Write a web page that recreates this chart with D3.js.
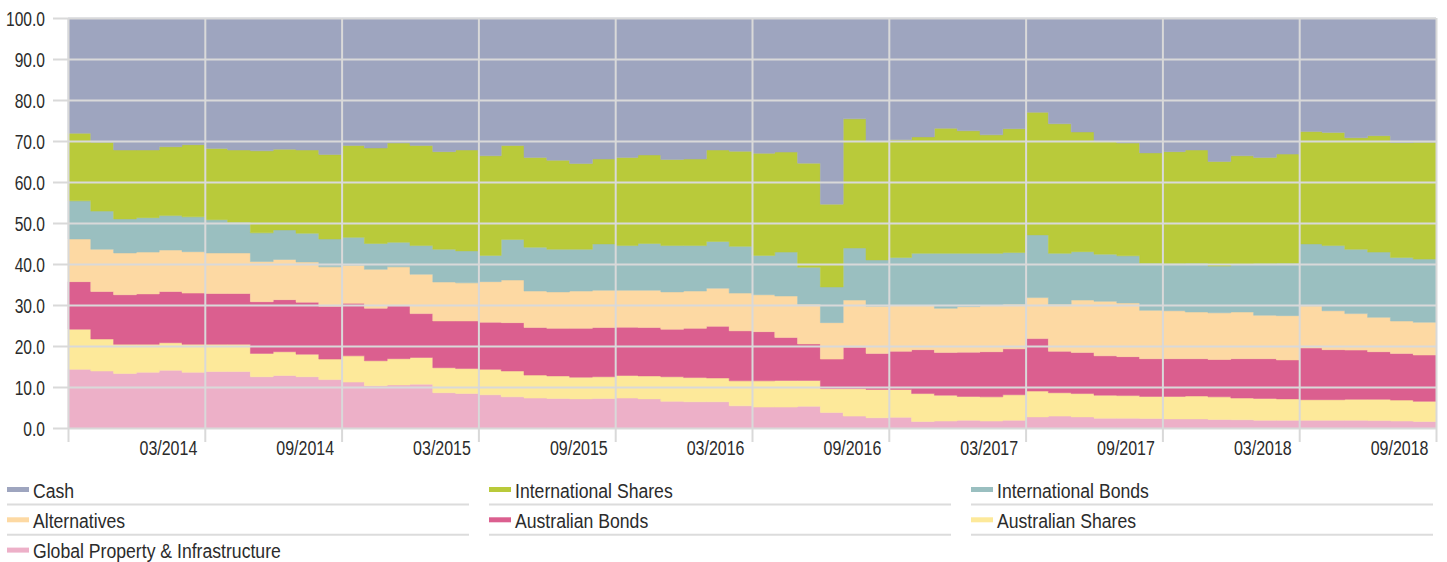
<!DOCTYPE html>
<html>
<head>
<meta charset="utf-8">
<script src="https://cdn.jsdelivr.net/npm/d3@7"></script>
<style>
  body { margin: 0; background: #fff; }
  text { font-family: "Liberation Sans", Arial, sans-serif; fill: #2b2b2b; }
</style>
</head>
<body>
<div id="chart"></div>
<script>
// Monthly asset allocation, Oct 2013 - Sep 2018 (%)
var months = [
  "10/2013","11/2013","12/2013","01/2014","02/2014","03/2014","04/2014","05/2014","06/2014","07/2014",
  "08/2014","09/2014","10/2014","11/2014","12/2014","01/2015","02/2015","03/2015","04/2015","05/2015",
  "06/2015","07/2015","08/2015","09/2015","10/2015","11/2015","12/2015","01/2016","02/2016","03/2016",
  "04/2016","05/2016","06/2016","07/2016","08/2016","09/2016","10/2016","11/2016","12/2016","01/2017",
  "02/2017","03/2017","04/2017","05/2017","06/2017","07/2017","08/2017","09/2017","10/2017","11/2017",
  "12/2017","01/2018","02/2018","03/2018","04/2018","05/2018","06/2018","07/2018","08/2018","09/2018"
];
var tickLabels = ["03/2014","09/2014","03/2015","09/2015","03/2016","09/2016","03/2017","09/2017","03/2018","09/2018"];
var yTicks = [0, 10, 20, 30, 40, 50, 60, 70, 80, 90, 100];

var globalProperty = [
  14.3,13.9,13.3,13.6,14.1,13.6,13.8,13.8,12.5,12.8,
  12.5,11.8,11.2,10.3,10.5,10.7,8.6,8.4,8.1,7.6,
  7.3,7.2,7.1,7.2,7.3,7.1,6.5,6.4,6.4,5.4,
  5.1,5.1,5.3,3.8,2.9,2.5,2.6,1.6,1.7,1.9,
  1.7,1.9,2.7,2.9,2.7,2.4,2.4,2.3,2.2,2.2,
  2.1,2.0,1.9,1.9,1.9,1.9,1.9,1.8,1.7,1.6
];
var australianShares = [
  9.8,7.8,7.1,6.8,6.7,6.8,6.6,6.6,5.7,5.8,
  5.5,5.0,6.4,6.1,6.4,6.5,6.1,6.1,6.2,6.3,
  5.6,5.5,5.3,5.3,5.5,5.6,6.0,5.9,5.8,6.1,
  6.4,6.5,6.3,5.8,6.7,6.9,6.8,6.8,6.3,5.8,
  5.9,6.2,6.3,5.7,5.7,5.6,5.5,5.4,5.5,5.6,
  5.5,5.3,5.3,5.2,5.0,5.0,5.1,5.2,5.1,4.9
];
var australianBonds = [
  11.6,11.6,12.1,12.3,12.5,12.5,12.4,12.4,12.6,12.7,
  12.7,12.9,12.8,12.8,12.9,10.7,11.4,11.6,11.5,11.8,
  11.6,11.6,11.9,12.0,11.8,11.8,11.6,12.0,12.6,12.2,
  12.0,10.5,8.9,7.2,10.1,8.8,9.3,10.7,10.4,10.8,
  11.0,11.2,12.8,10.1,10.0,9.6,9.5,9.2,9.2,9.1,
  9.1,9.6,9.7,9.5,12.6,12.2,12.0,11.6,11.4,11.3
];
var alternatives = [
  10.4,10.3,10.2,10.2,10.1,10.1,9.9,9.9,9.8,9.8,
  9.8,9.6,9.3,9.5,9.5,9.6,9.5,9.3,9.9,10.4,
  8.9,8.9,9.1,9.1,9.0,9.1,9.1,9.1,9.3,9.2,
  9.0,10.1,9.7,8.9,11.5,11.5,11.3,10.9,10.8,11.1,
  11.4,10.9,10.0,11.5,12.8,13.3,13.1,11.8,11.7,11.4,
  11.4,11.4,10.6,10.8,10.3,9.5,8.9,8.4,7.9,8.0
];
var internationalBonds = [
  9.3,9.3,8.3,8.4,8.4,8.5,8.1,7.5,7.0,7.2,
  7.0,6.8,6.8,6.3,6.0,7.0,8.0,7.8,6.4,9.9,
  10.7,10.4,10.2,11.3,10.9,11.4,11.3,11.1,11.4,11.4,
  9.6,10.7,9.0,8.7,12.7,11.3,11.6,12.6,13.4,13.0,
  12.6,12.6,15.3,12.4,11.8,11.5,11.5,11.5,11.5,11.9,
  11.4,11.7,12.6,12.8,15.1,15.9,15.7,15.9,15.5,15.4
];
var internationalShares = [
  16.5,16.8,16.8,16.5,16.8,17.6,17.4,17.6,20.0,19.7,
  20.3,20.6,22.4,23.3,24.2,24.4,23.8,24.6,24.3,22.9,
  21.9,21.7,20.9,20.7,21.5,21.6,21.0,21.1,22.3,23.2,
  24.9,24.4,25.4,20.2,31.5,28.9,28.7,28.4,30.5,29.9,
  28.9,30.2,29.9,31.6,29.2,27.5,27.5,26.9,27.3,27.6,
  25.5,26.4,25.9,26.6,27.4,27.6,27.2,28.4,28.0,28.5
];
var cash = [
  28.1,30.3,32.2,32.2,31.4,30.9,31.8,32.2,32.4,32.0,
  32.2,33.3,31.1,31.7,30.5,31.1,32.6,32.2,33.6,31.1,
  34.0,34.7,35.5,34.4,34.0,33.4,34.5,34.4,32.2,32.5,
  33.0,32.7,35.4,45.4,24.6,30.1,29.7,29.0,26.9,27.5,
  28.5,27.0,23.0,25.8,27.8,30.1,30.5,32.9,32.6,32.2,
  35.0,33.6,34.0,33.2,27.7,27.9,29.2,28.7,30.4,30.3
];

// stack order, bottom to top
var seriesNames = ["Global Property & Infrastructure", "Australian Shares", "Australian Bonds",
  "Alternatives", "International Bonds", "International Shares", "Cash"];
var seriesValues = [globalProperty, australianShares, australianBonds,
  alternatives, internationalBonds, internationalShares, cash];
var seriesColors = ["#edb0c8", "#fde99a", "#db5f8f", "#fdd9a3", "#9abfc0", "#b9ca3a", "#9ea5bf"];
var legendOrder = ["Cash", "International Shares", "International Bonds",
  "Alternatives", "Australian Bonds", "Australian Shares", "Global Property & Infrastructure"];

var svgWidth = 1447;
var svgHeight = 562;
var plot = { left: 68, right: 1436, top: 18, bottom: 428 };

var svg = d3.select("#chart").append("svg")
  .attr("width", svgWidth)
  .attr("height", svgHeight);

// no narrow font installed, so squeeze text horizontally around its anchor
function condense(selection, sx) {
  selection.each(function() {
    var t = d3.select(this);
    var x = +t.attr("x") || 0;
    var y = +t.attr("y") || 0;
    t.attr("x", 0).attr("y", 0)
      .attr("transform", "translate(" + x + "," + y + ") scale(" + sx + ",1)");
  });
}

// table for d3.stack
var table = months.map(function(m, i) {
  var row = { month: m };
  seriesNames.forEach(function(name, k) { row[name] = seriesValues[k][i]; });
  return row;
});

var stack = d3.stack().keys(seriesNames);
var layers = stack(table);

var xScale = d3.scaleLinear()
  .domain([0, months.length])
  .range([plot.left, plot.right]);

var yScale = d3.scaleLinear()
  .domain([0, 100])
  .range([plot.bottom, plot.top]);

var color = d3.scaleOrdinal().domain(seriesNames).range(seriesColors);

// step areas: each month holds its value across its whole slot
var area = d3.area()
  .x(function(d) { return xScale(d.x); })
  .y0(function(d) { return yScale(d.y0); })
  .y1(function(d) { return yScale(d.y1); });

var areaGroup = svg.append("g");
layers.forEach(function(layer) {
  var pts = [];
  layer.forEach(function(d, i) {
    pts.push({ x: i, y0: d[0], y1: d[1] });
    pts.push({ x: i + 1, y0: d[0], y1: d[1] });
  });
  areaGroup.append("path")
    .datum(pts)
    .attr("fill", color(layer.key))
    .attr("stroke", color(layer.key))
    .attr("stroke-width", 0.5)
    .attr("d", area);
});

// y axis: gridlines run from the right edge out past the left edge
var leftAxis = d3.axisLeft(yScale)
  .tickValues(yTicks)
  .tickSize(plot.right - 53)
  .tickPadding(8)
  .tickFormat(d3.format(".1f"));

var yAxisG = svg.append("g")
  .attr("transform", "translate(" + plot.right + ",0)")
  .call(leftAxis);
yAxisG.select(".domain").remove();
yAxisG.selectAll("line").attr("stroke", "#d9d9d9").attr("stroke-width", 2);
yAxisG.selectAll("text")
  .style("font-size", "19.5px")
  .attr("dy", "0.38em")
  .call(condense, 0.8);

// x axis: vertical gridlines at 6 month boundaries
var xTickValues = d3.range(0, months.length + 1, 6);
var bottomAxis = d3.axisBottom(xScale)
  .tickValues(xTickValues)
  .tickSize(442 - plot.top)
  .tickFormat(function(d, i) { return i === 0 ? "" : tickLabels[i - 1]; });

var xAxisG = svg.append("g")
  .attr("transform", "translate(0," + plot.top + ")")
  .call(bottomAxis);
xAxisG.select(".domain").remove();
xAxisG.selectAll("line").attr("stroke", "#d9d9d9").attr("stroke-width", 2);
xAxisG.selectAll("text")
  .attr("text-anchor", "end")
  .attr("x", -8)
  .attr("y", 455 - plot.top)
  .attr("dy", 0)
  .style("font-size", "19.5px")
  .call(condense, 0.82);

// legend, 3 columns
var legend = svg.append("g");
var items = legend.selectAll("g")
  .data(legendOrder)
  .enter()
  .append("g")
  .attr("transform", function(d, i) {
    var col = i % 3, row = Math.floor(i / 3);
    return "translate(" + (7 + col * 482) + "," + (490 + row * 30.3) + ")";
  });

items.append("rect")
  .attr("x", 0)
  .attr("y", -3)
  .attr("width", 22)
  .attr("height", 5)
  .attr("fill", function(d) { return color(d); });

items.append("text")
  .attr("x", 26)
  .attr("y", 0)
  .attr("dy", "0.36em")
  .style("font-size", "21px")
  .text(function(d) { return d; })
  .call(condense, 0.84);

items.append("line")
  .attr("x1", 0)
  .attr("x2", 462)
  .attr("y1", 14.5)
  .attr("y2", 14.5)
  .attr("stroke", "#dcdcdc")
  .attr("stroke-width", 2);
</script>
</body>
</html>
